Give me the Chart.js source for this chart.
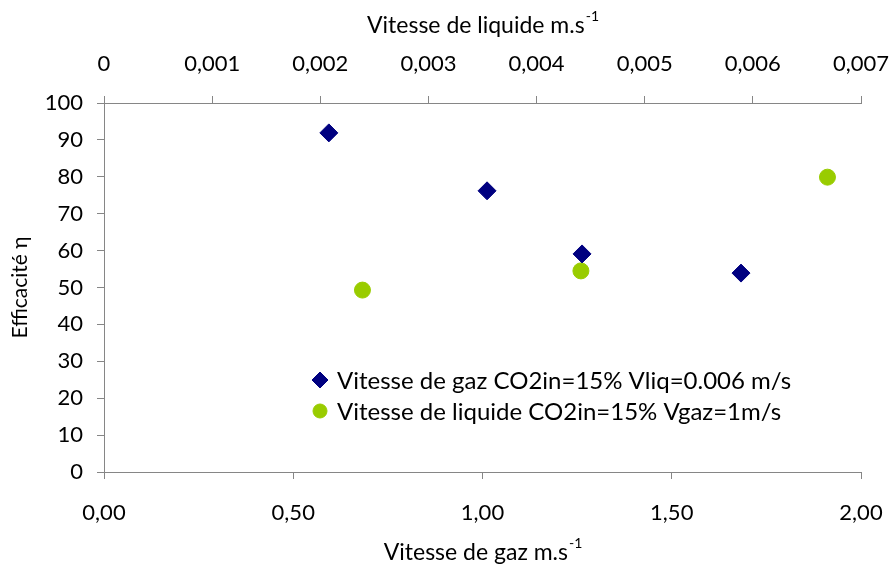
<!DOCTYPE html>
<html lang="fr">
<head>
  <meta charset="UTF-8" />
  <title>Efficacité</title>
  <script src="https://cdn.jsdelivr.net/npm/chart.js"></script>
  <style>
    html, body { margin: 0; padding: 0; background: #fff; overflow: hidden; }
    .chart-box { width: 895px; height: 578px; }
    canvas { display: block; }
  </style>
</head>
<body>
<div class="chart-box"><canvas id="effChart"></canvas></div>

<script>
  // Série 1 : vitesse de gaz (axe du bas), Vliq = 0.006 m/s
  const gazVitesse = [0.594, 1.012, 1.263, 1.683];
  const gazEfficacite = [91.9, 76.2, 59.1, 53.9];

  // Série 2 : vitesse de liquide (axe du haut), Vgaz = 1 m/s
  const liqVitesse = [0.00239, 0.00441, 0.00669];
  const liqEfficacite = [49.3, 54.5, 79.9];

  const gazTicks = [0, 0.5, 1, 1.5, 2];
  const liqTicks = [0, 0.001, 0.002, 0.003, 0.004, 0.005, 0.006, 0.007];
  const effTicks = [0, 10, 20, 30, 40, 50, 60, 70, 80, 90, 100];

  const labels = [
    'Vitesse de gaz CO2in=15% Vliq=0.006 m/s',
    'Vitesse de liquide CO2in=15% Vgaz=1m/s'
  ];

  const FONT = 'Lato';
  const axisGrey = '#868686';

  const comma = (v, d) => v.toFixed(d).replace('.', ',');

  // titre d'axe avec exposant "-1"
  const drawSupTitle = (ctx, base, sup, cx, cy) => {
    ctx.save();
    ctx.fillStyle = '#000';
    ctx.textBaseline = 'middle';
    ctx.textAlign = 'left';
    ctx.font = `23px ${FONT}`;
    const w1 = ctx.measureText(base).width;
    ctx.font = `14px ${FONT}`;
    const w2 = ctx.measureText(sup).width;
    const x0 = cx - (w1 + w2) / 2;
    ctx.font = `23px ${FONT}`;
    ctx.fillText(base, x0, cy);
    ctx.font = `14px ${FONT}`;
    ctx.fillText(sup, x0 + w1 + 1, cy - 10);
    ctx.restore();
  };

  const axisTitles = {
    id: 'axisTitles',
    afterDraw(chart) {
      const { ctx, chartArea } = chart;
      const cx = (chartArea.left + chartArea.right) / 2;
      drawSupTitle(ctx, 'Vitesse de liquide m.s', '-1', cx, 26);
      drawSupTitle(ctx, 'Vitesse de gaz m.s', '-1', cx, 553);
    }
  };

  // légende dans la zone du graphique
  const innerLegend = {
    id: 'innerLegend',
    afterDraw(chart) {
      const { ctx } = chart;
      chart.data.datasets.forEach((ds, i) => {
        const y = 380 + i * 31;
        ctx.save();
        ctx.fillStyle = ds.backgroundColor;
        ctx.strokeStyle = ds.borderColor;
        ctx.lineWidth = 1;
        Chart.helpers.drawPoint(ctx, { pointStyle: ds.pointStyle, radius: ds.pointRadius - 1, rotation: 0, borderWidth: 1 }, 320, y);
        ctx.fillStyle = '#000';
        ctx.font = `24px ${FONT}`;
        ctx.textBaseline = 'middle';
        ctx.fillText(ds.label, 337, y + 1);
        ctx.restore();
      });
    }
  };

  // les marges des libellés ne doivent pas rétrécir la zone de tracé
  const noPad = s => { s.paddingLeft = s.paddingRight = s.paddingTop = s.paddingBottom = 0; };

  const grid = { display: true, drawOnChartArea: false, drawTicks: true, tickLength: 7, color: axisGrey };
  const border = { display: true, color: axisGrey, width: 1 };
  const tickFont = { family: FONT, size: 22 };

  new Chart(document.getElementById('effChart'), {
    type: 'scatter',
    data: {
      datasets: [
        {
          label: labels[0],
          data: gazVitesse.map((x, i) => ({ x, y: gazEfficacite[i] })),
          xAxisID: 'x',
          pointStyle: 'rectRot',
          pointRadius: 9,
          backgroundColor: '#000080',
          borderColor: '#000080',
          borderWidth: 1
        },
        {
          label: labels[1],
          data: liqVitesse.map((x, i) => ({ x, y: liqEfficacite[i] })),
          xAxisID: 'x2',
          pointStyle: 'circle',
          pointRadius: 8,
          backgroundColor: '#99CC00',
          borderColor: '#99CC00',
          borderWidth: 1
        }
      ]
    },
    options: {
      responsive: true,
      maintainAspectRatio: false,
      animation: false,
      layout: { padding: { top: 0, right: 34, bottom: 0, left: 0 } },
      plugins: { legend: { display: false }, tooltip: { enabled: false } },
      scales: {
        x: {
          type: 'linear', position: 'bottom', min: 0, max: 2,
          afterBuildTicks: s => { s.ticks = gazTicks.map(value => ({ value })); },
          afterFit: s => { s.height = 106; noPad(s); },
          grid, border,
          ticks: { color: '#000', font: tickFont, padding: 21, maxRotation: 0, callback: v => comma(v, 2) }
        },
        x2: {
          type: 'linear', position: 'top', min: 0, max: 0.007,
          afterBuildTicks: s => { s.ticks = liqTicks.map(value => ({ value })); },
          afterFit: s => { s.height = 103; noPad(s); },
          grid, border,
          ticks: { color: '#000', font: tickFont, padding: 19, maxRotation: 0, callback: v => v === 0 ? '0' : comma(v, 3) }
        },
        y: {
          type: 'linear', position: 'left', min: 0, max: 100,
          afterBuildTicks: s => { s.ticks = effTicks.map(value => ({ value })); },
          afterFit: s => { s.width = 104; noPad(s); },
          grid, border,
          ticks: { color: '#000', font: tickFont, padding: 14 },
          title: { display: true, text: 'Efficacité η', color: '#000', font: { family: FONT, size: 21 }, padding: { top: 8, bottom: 0 } }
        }
      }
    },
    plugins: [axisTitles, innerLegend]
  });
</script>
</body>
</html>
